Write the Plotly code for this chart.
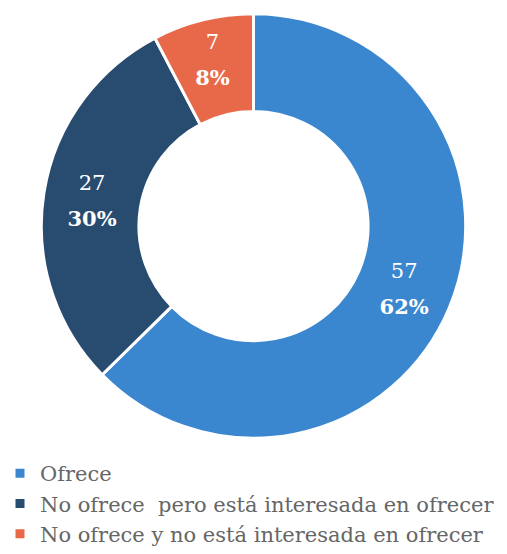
import plotly.graph_objects as go

# Survey result: companies offering the service
categories = [
    "Ofrece",
    "No ofrece  pero está interesada en ofrecer",
    "No ofrece y no está interesada en ofrecer",
]
counts = [57, 27, 7]
percent_labels = [62, 30, 8]
colors = ["#3A87CF", "#284B70", "#E8694A"]

SERIF = "DejaVu Serif"

# count on the first line, bold share on the second; the larger base font
# size only sets the line spacing between the two rows
labels_text = [
    f"<span style='font-size:21px'>{c}</span><br>"
    f"<span style='font-size:21px'><b>{p}%</b></span>"
    for c, p in zip(counts, percent_labels)
]

fig = go.Figure(
    go.Pie(
        labels=categories,
        values=counts,
        text=labels_text,
        texttemplate="%{text}",
        textposition="inside",
        insidetextorientation="horizontal",
        hole=0.54,
        sort=False,
        direction="clockwise",
        rotation=0,
        marker=dict(colors=colors, line=dict(color="white", width=3)),
        textfont=dict(family=SERIF, size=28, color="white"),
        domain=dict(x=[0, 1], y=[0.209, 0.975]),
        showlegend=True,
    )
)

fig.update_layout(
    width=507,
    height=554,
    margin=dict(l=0, r=0, t=0, b=0),
    paper_bgcolor="white",
    plot_bgcolor="white",
    font=dict(family=SERIF, color="#666666"),
    legend=dict(
        orientation="v",
        x=0,
        y=0,
        xanchor="left",
        yanchor="bottom",
        font=dict(family=SERIF, size=21, color="#666666"),
        itemwidth=30,
        tracegroupgap=0,
    ),
)

fig.write_html("out.html")
